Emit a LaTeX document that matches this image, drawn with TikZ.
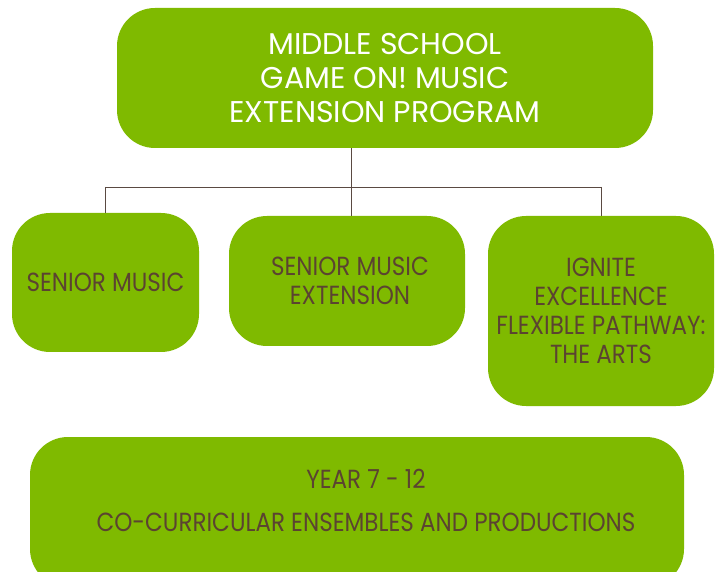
\documentclass[tikz,border=0pt]{standalone}
\usepackage{fontspec}
\setmainfont{Poppins}[FakeStretch=0.88]
\newfontfamily\topfont{Poppins}
\definecolor{boxgreen}{HTML}{7FBA00}
\definecolor{txtbrown}{HTML}{5B4331}
\definecolor{linebrown}{HTML}{5A4A42}
\begin{document}
\begin{tikzpicture}[x=1pt,y=-1pt,
  box/.style={fill=boxgreen, rounded corners=38pt, inner sep=0pt, align=center, rectangle},
  toptext/.style={text=white, font=\topfont\fontsize{30}{34}\selectfont},
  childtext/.style={text=txtbrown, font=\fontsize{26.2}{29}\selectfont},
  conn/.style={draw=linebrown, line width=0.9pt}]
\useasboundingbox (0,0) rectangle (721,572);
\clip (0,0) rectangle (721,572);
\node[box, toptext, minimum width=536pt, minimum height=140pt] (top) at (385,78)
  {MIDDLE SCHOOL\\GAME ON! MUSIC\\EXTENSION PROGRAM};
\node[box, childtext, minimum width=187pt, minimum height=139pt] (c1) at (105.5,282.5)
  {SENIOR MUSIC};
\node[box, childtext, minimum width=236pt, minimum height=130pt] (c2) at (347,281)
  {\hspace*{6pt}SENIOR MUSIC\\\hspace*{6pt}EXTENSION};
\node[box, childtext, minimum width=226pt, minimum height=190pt] (c3) at (601,311)
  {IGNITE\\EXCELLENCE\\FLEXIBLE PATHWAY:\\THE ARTS};
\node[box, minimum width=654pt, minimum height=150pt] (bot) at (357,512) {};
\node[childtext, align=center] (bottext) at (366,500)
  {YEAR 7 - 12\\[14pt]CO-CURRICULAR ENSEMBLES AND PRODUCTIONS};
\coordinate (bus) at (351,187);
\draw[conn] (top.south -| bus) -- (bus);
\draw[conn] (bus -| c1.north) -- (bus -| c3.north);
\draw[conn] (bus -| c1.north) -- (c1.north);
\draw[conn] (bus) -- (bus |- c2.north);
\draw[conn] (bus -| c3.north) -- (c3.north);
\end{tikzpicture}
\end{document}
